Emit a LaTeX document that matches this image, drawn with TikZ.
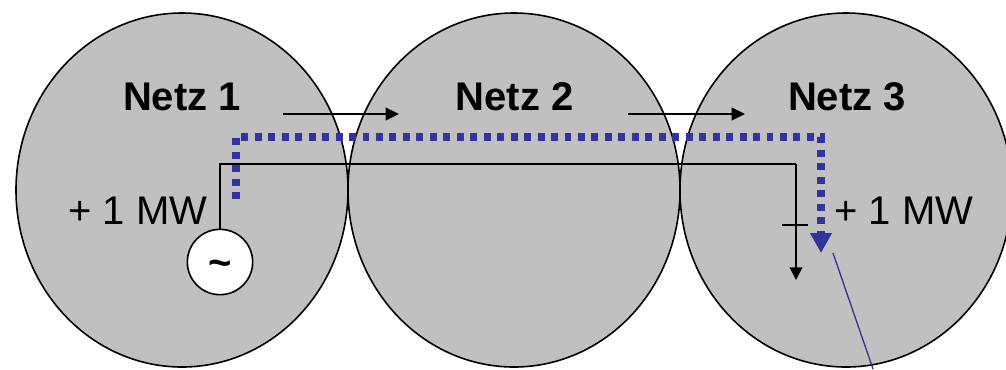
\documentclass[tikz,border=0pt]{standalone}
\usepackage{fontspec}
\setmainfont{Liberation Sans}
\usetikzlibrary{shapes.geometric,arrows.meta}
\definecolor{flowblue}{rgb}{0.2,0.2,0.6}
\definecolor{netgray}{rgb}{0.753,0.753,0.753}
\tikzstyle{netz} = [ellipse, draw, fill=netgray, line width=1.2pt, inner sep=0pt, outer sep=0pt,
    minimum width=249pt, minimum height=265.5pt]
\tikzstyle{netzlabel} = [font=\fontsize{30}{34}\selectfont\bfseries, inner sep=0pt]
\tikzstyle{power} = [font=\fontsize{30}{34}\selectfont, inner sep=0pt]
\tikzstyle{generator} = [circle, draw, fill=white, line width=1.2pt, inner sep=0pt, outer sep=0pt,
    minimum size=49pt, font=\fontsize{30}{34}\selectfont\bfseries]
\tikzstyle{line} = [draw, line width=1pt]
\tikzstyle{direction} = [draw, line width=1.2pt, -{Triangle[length=10pt,width=9.5pt]}]
\tikzstyle{lineflow} = [draw, line width=1.2pt, -{Triangle[length=9.5pt,width=9.5pt]}]
\tikzstyle{transit} = [draw, color=flowblue, line width=5.6pt, dash pattern=on 5.2pt off 4.9pt,
    -{Triangle[length=15pt,width=15.5pt]}]
\tikzstyle{callout} = [draw, color=flowblue, line width=1pt]
\begin{document}
\begin{tikzpicture}[x=0.75pt, y=-0.75pt]
    \useasboundingbox (0,0) rectangle (1006,369);
    % Place nodes
    \node [netz] (netz1) at (182,190) {};
    \node [netz] (netz2) at (514,190) {};
    \node [netz] (netz3) at (846,190) {};
    \node [netzlabel] (label1) at (182,97) {Netz 1};
    \node [netzlabel] (label2) at (514.5,97) {Netz 2};
    \node [netzlabel] (label3) at (847,97) {Netz 3};
    \node [power] (mw1) at (138,211) {+ 1 MW};
    \node [power] (mw3) at (904,211) {+ 1 MW};
    \node [generator] (gen) at (220,262) {\raisebox{-11pt}[0pt][0pt]{\textasciitilde}};
    % Corner and end points
    \coordinate (linestart) at (220,164);
    \coordinate (lineend) at (796,164);
    \coordinate (load) at (796,280);
    \coordinate (loadtickl) at (782,225);
    \coordinate (loadtickr) at (808,225);
    \coordinate (dir1a) at (283,114);
    \coordinate (dir1b) at (399,114);
    \coordinate (dir2a) at (628,114);
    \coordinate (dir2b) at (745,114);
    \coordinate (flowstart) at (236,199);
    \coordinate (flowa) at (236,137);
    \coordinate (flowb) at (821,137);
    \coordinate (flowend) at (821,253);
    \coordinate (calla) at (833,253);
    \coordinate (callb) at (873,369);
    % Draw edges
    \path [line] (gen) -- (linestart) -- (lineend);
    \path [lineflow] (lineend) -- (load);
    \path [line] (loadtickl) -- (loadtickr);
    \path [direction] (dir1a) -- (dir1b);
    \path [direction] (dir2a) -- (dir2b);
    \path [transit] (flowstart) -- (flowa) -- (flowb) -- (flowend);
    \path [callout] (calla) -- (callb);
\end{tikzpicture}
\end{document}
